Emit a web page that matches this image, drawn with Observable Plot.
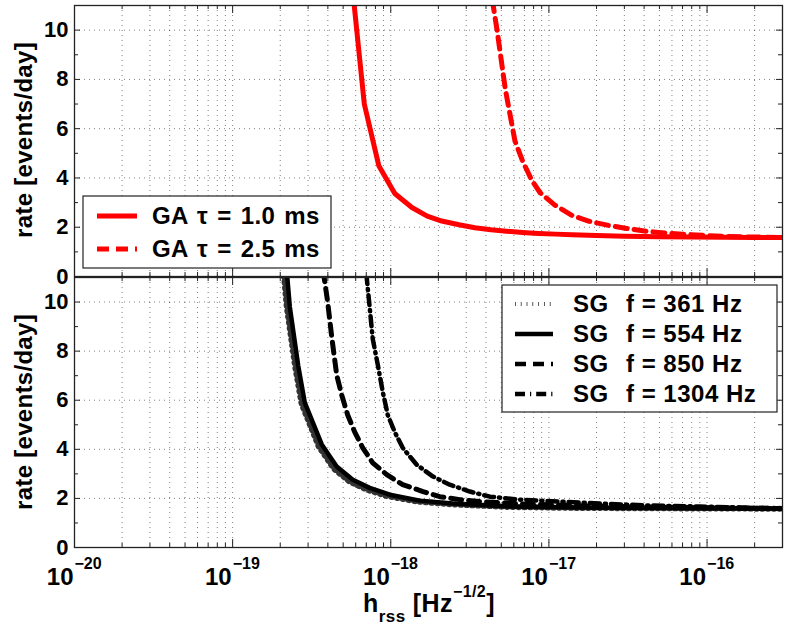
<!DOCTYPE html>
<html><head><meta charset="utf-8">
<script src="https://cdn.jsdelivr.net/npm/d3@7"></script>
<script src="https://cdn.jsdelivr.net/npm/@observablehq/plot@0.6"></script>
<style>
body{margin:0;background:#fff;}
#chart{position:relative;width:789px;height:632px;font-family:"Liberation Sans",Arial,Helvetica,sans-serif;font-weight:bold;}
#chart svg{position:absolute;left:0;overflow:visible;}
</style></head><body><div id="chart"></div>
<script>
// ---- data ----
const xMajor = [1e-20, 1e-19, 1e-18, 1e-17, 1e-16];
const xTickExp = ["\u221220", "\u221219", "\u221218", "\u221217", "\u221216"];
const yMajor = [0, 2, 4, 6, 8, 10];
const yMinor = [1, 3, 5, 7, 9, 11];

const ga10_h = [5.6e-19, 6.8e-19, 8.4e-19, 1.06e-18, 1.36e-18, 1.7e-18, 2.1e-18, 2.7e-18, 3.4e-18, 4.3e-18, 5.4e-18, 6.8e-18, 8.6e-18, 1.1e-17, 1.4e-17, 2e-17, 3e-17, 5e-17, 8e-17, 1.3e-16, 2e-16, 3e-16];
const ga10_r = [12.3, 7.0, 4.5, 3.37, 2.8, 2.45, 2.25, 2.1, 1.98, 1.9, 1.84, 1.79, 1.75, 1.72, 1.69, 1.66, 1.63, 1.61, 1.6, 1.59, 1.58, 1.58];

const ga25_h = [4.2e-18, 4.7e-18, 5.3e-18, 6.1e-18, 6.8e-18, 7.8e-18, 8.8e-18, 1.09e-17, 1.4e-17, 1.8e-17, 2.4e-17, 3.1e-17, 4.2e-17, 5.4e-17, 7e-17, 9.4e-17, 1.26e-16, 1.7e-16, 2.3e-16, 3e-16];
const ga25_r = [12, 10, 7.6, 5.5, 4.7, 3.9, 3.4, 2.9, 2.48, 2.24, 2.07, 1.95, 1.83, 1.77, 1.72, 1.67, 1.63, 1.61, 1.6, 1.58];

const sg361_h = [2.05e-19, 2.2e-19, 2.48e-19, 2.73e-19, 3.5e-19, 4.35e-19, 5.5e-19, 7.05e-19, 9.5e-19, 1.48e-18, 2.42e-18, 5.6e-18, 1.56e-17, 9e-17, 3e-16];
const sg361_r = [12, 9.8, 7.4, 5.85, 4.12, 3.22, 2.68, 2.36, 2.09, 1.87, 1.76, 1.65, 1.61, 1.59, 1.58];

const sg554_h = [2.15e-19, 2.3e-19, 2.6e-19, 2.86e-19, 3.66e-19, 4.55e-19, 5.75e-19, 7.36e-19, 9.86e-19, 1.53e-18, 2.47e-18, 5.66e-18, 1.57e-17, 9e-17, 3e-16];
const sg554_r = [12, 9.8, 7.4, 5.9, 4.2, 3.3, 2.76, 2.43, 2.15, 1.91, 1.79, 1.67, 1.63, 1.6, 1.59];

const sg850_h = [3.6e-19, 3.99e-19, 4.24e-19, 4.55e-19, 4.9e-19, 5.34e-19, 5.92e-19, 6.65e-19, 7.69e-19, 9.43e-19, 1.19e-18, 1.6e-18, 2.04e-18, 2.73e-18, 3.66e-18, 6.55e-18, 2.1e-17, 9e-17, 3e-16];
const sg850_r = [12, 10, 8.54, 7.03, 6.2, 5.4, 4.7, 4.06, 3.45, 2.97, 2.56, 2.28, 2.07, 1.95, 1.87, 1.78, 1.68, 1.62, 1.59];

const sg1304_h = [6.8e-19, 7.36e-19, 7.69e-19, 8.28e-19, 8.9e-19, 9.57e-19, 1.06e-18, 1.19e-18, 1.46e-18, 1.85e-18, 2.36e-18, 3.16e-18, 4.24e-18, 6.55e-18, 1.17e-17, 2.1e-17, 4.36e-17, 9.03e-17, 3e-16];
const sg1304_r = [12, 9.76, 8.5, 7.44, 6.34, 5.4, 4.7, 4.06, 3.37, 2.89, 2.56, 2.28, 2.07, 1.95, 1.87, 1.79, 1.71, 1.67, 1.59];

const topLegend = ["GA \u03c4 = 1.0 ms", "GA \u03c4 = 2.5 ms"];
const botLegendF = ["f = 361 Hz", "f = 554 Hz", "f = 850 Hz", "f = 1304 Hz"];

// ---- helpers ----
const rows = (hs, rs) => hs.map((h, i) => ({h, r: rs[i]}));
const xMinor = [];
xMajor.forEach(dec => { for (let k = 2; k <= 9; k++) { const v = dec * k; if (v <= 3e-16) xMinor.push(v); } });
const xAll = xMajor.concat(xMinor);

const W = 789, ML = 74, MR = 7, PW = W - ML - MR;
const FONT = '"Liberation Sans", Arial, Helvetica, sans-serif';
const INK = "#222";

function frameMarks(PH) {
  return [
    Plot.gridX(xAll, {stroke: "#000", strokeOpacity: 0.5, strokeDasharray: "1,4"}),
    Plot.gridY([2, 4, 6, 8, 10], {stroke: "#000", strokeOpacity: 0.5, strokeDasharray: "1,4"}),
    Plot.ruleX(xMajor, {x: d => d, insetTop: PH - 8, stroke: INK}),
    Plot.ruleX(xMajor, {x: d => d, insetBottom: PH - 8, stroke: INK}),
    Plot.ruleX(xMinor, {x: d => d, insetTop: PH - 4, stroke: INK}),
    Plot.ruleX(xMinor, {x: d => d, insetBottom: PH - 4, stroke: INK}),
    Plot.ruleY(yMajor, {y: d => d, insetRight: PW - 6, stroke: INK}),
    Plot.ruleY(yMajor, {y: d => d, insetLeft: PW - 6, stroke: INK}),
    Plot.ruleY(yMinor, {y: d => d, insetRight: PW - 4, stroke: INK}),
    Plot.ruleY(yMinor, {y: d => d, insetLeft: PW - 4, stroke: INK}),
    Plot.text(yMajor, {y: d => d, frameAnchor: "left", dx: -6, text: d => String(d), textAnchor: "end", fontSize: 22, fontWeight: "bold", fill: "#000"})
  ];
}

const chart = document.getElementById("chart");

// ---- top panel ----
const topH = 276, topMT = 5, topMB = 0, topPH = topH - topMT - topMB;
const topSvg = Plot.plot({
  width: W, height: topH, marginTop: topMT, marginBottom: topMB, marginLeft: ML, marginRight: MR,
  style: {fontFamily: FONT, fontWeight: "bold", fontSize: "22px", background: "transparent", overflow: "visible"},
  x: {type: "log", domain: [1e-20, 3e-16], axis: null},
  y: {domain: [0, 11], axis: null},
  marks: [
    ...frameMarks(topPH),
    Plot.line(rows(ga25_h, ga25_r), {x: "h", y: "r", stroke: "#ff0000", strokeWidth: 5, strokeDasharray: "12,7", clip: true}),
    Plot.line(rows(ga10_h, ga10_r), {x: "h", y: "r", stroke: "#ff0000", strokeWidth: 5, clip: true}),
    Plot.frame({stroke: INK, strokeWidth: 1.3})
  ]
});
topSvg.style.top = "0px";
chart.appendChild(topSvg);

// ---- bottom panel ----
const botOff = 276;
const botH = 356, botMT = 1, botMB = 85, botPH = botH - botMT - botMB;
const botSvg = Plot.plot({
  width: W, height: botH, marginTop: botMT, marginBottom: botMB, marginLeft: ML, marginRight: MR,
  style: {fontFamily: FONT, fontWeight: "bold", fontSize: "22px", background: "transparent", overflow: "visible"},
  x: {type: "log", domain: [1e-20, 3e-16], axis: null},
  y: {domain: [0, 11], axis: null},
  marks: [
    ...frameMarks(botPH),
    Plot.line(rows(sg361_h, sg361_r), {x: "h", y: "r", stroke: "#333", strokeWidth: 6, strokeDasharray: "0.8,5", clip: true}),
    Plot.line(rows(sg554_h, sg554_r), {x: "h", y: "r", stroke: "#000", strokeWidth: 4.5, clip: true}),
    Plot.line(rows(sg850_h, sg850_r), {x: "h", y: "r", stroke: "#000", strokeWidth: 5, strokeDasharray: "11,7", clip: true}),
    Plot.line(rows(sg1304_h, sg1304_r), {x: "h", y: "r", stroke: "#000", strokeWidth: 4.5, strokeDasharray: "10,5,1.2,5", clip: true}),
    Plot.frame({stroke: INK, strokeWidth: 1.3}),
    Plot.text(xMajor, {x: d => d, frameAnchor: "bottom", dy: 37, dx: -1, text: () => "10", textAnchor: "end", lineAnchor: "bottom", fontSize: 24, fontWeight: "bold", fill: "#000"}),
    Plot.text(xMajor, {x: d => d, frameAnchor: "bottom", dy: 21, dx: 0, text: (d, i) => xTickExp[i], textAnchor: "start", lineAnchor: "bottom", fontSize: 16, fontWeight: "bold", fill: "#000"})
  ]
});
botSvg.style.top = botOff + "px";
chart.appendChild(botSvg);

// ---- y labels ----
function yLabel(svg, cy) {
  d3.select(svg).append("text")
    .attr("transform", `translate(32,${cy}) rotate(-90)`)
    .attr("text-anchor", "middle").attr("font-size", 24).attr("font-weight", "bold").attr("fill", "#000")
    .attr("font-family", FONT).attr("letter-spacing", 0.3)
    .text("rate [events/day]");
}
yLabel(topSvg, 140);
yLabel(botSvg, 136);

// ---- x title ----
{
  const t = d3.select(botSvg).append("text")
    .attr("x", 429).attr("y", 612 - botOff).attr("text-anchor", "middle")
    .attr("font-size", 25).attr("font-weight", "bold").attr("fill", "#000").attr("font-family", FONT)
    .attr("letter-spacing", 0.4);
  t.append("tspan").text("h");
  t.append("tspan").attr("font-size", 17).attr("dy", 10).text("rss");
  t.append("tspan").attr("dy", -10).text(" [Hz");
  t.append("tspan").attr("font-size", 16).attr("dy", -15).text("\u22121/2");
  t.append("tspan").attr("dy", 15).text("]");
}

// ---- top legend ----
{
  const g = d3.select(topSvg).append("g").attr("font-family", FONT).attr("font-weight", "bold").attr("font-size", 24)
    .attr("text-anchor", "start").attr("letter-spacing", 0.4).attr("word-spacing", 2);
  g.append("rect").attr("x", 83).attr("y", 196).attr("width", 248).attr("height", 72).attr("fill", "#fff").attr("stroke", INK).attr("stroke-width", 1.2);
  const ys = [216, 249];
  const dashes = [null, "12,7"];
  ys.forEach((y, i) => {
    g.append("line").attr("x1", 97).attr("x2", 137).attr("y1", y).attr("y2", y)
      .attr("stroke", "#ff0000").attr("stroke-width", 5).attr("stroke-dasharray", dashes[i]);
    g.append("text").attr("x", 152).attr("y", y + 7.5).attr("text-anchor", "start").attr("fill", "#000").text(topLegend[i]);
  });
}

// ---- bottom legend ----
{
  const g = d3.select(botSvg).append("g").attr("font-family", FONT).attr("font-weight", "bold").attr("font-size", 24)
    .attr("text-anchor", "start").attr("letter-spacing", 0.5);
  g.append("rect").attr("x", 502).attr("y", 285 - botOff).attr("width", 275).attr("height", 127).attr("fill", "#fff").attr("stroke", INK).attr("stroke-width", 1.2);
  const ys = [304, 334, 364, 394];
  const dashes = ["0.8,5", null, "11,7", "10,5,1.2,5"];
  ys.forEach((y, i) => {
    const yy = y - botOff;
    g.append("line").attr("x1", 515).attr("x2", 553).attr("y1", yy).attr("y2", yy)
      .attr("stroke", i === 0 ? "#333" : "#000").attr("stroke-width", i === 0 ? 4 : 4.5).attr("stroke-dasharray", dashes[i]);
    g.append("text").attr("x", 573).attr("y", yy + 8).attr("text-anchor", "start").attr("fill", "#000").text("SG");
    g.append("text").attr("x", 626).attr("y", yy + 8).attr("text-anchor", "start").attr("fill", "#000").text(botLegendF[i]);
  });
}
</script></body></html>
